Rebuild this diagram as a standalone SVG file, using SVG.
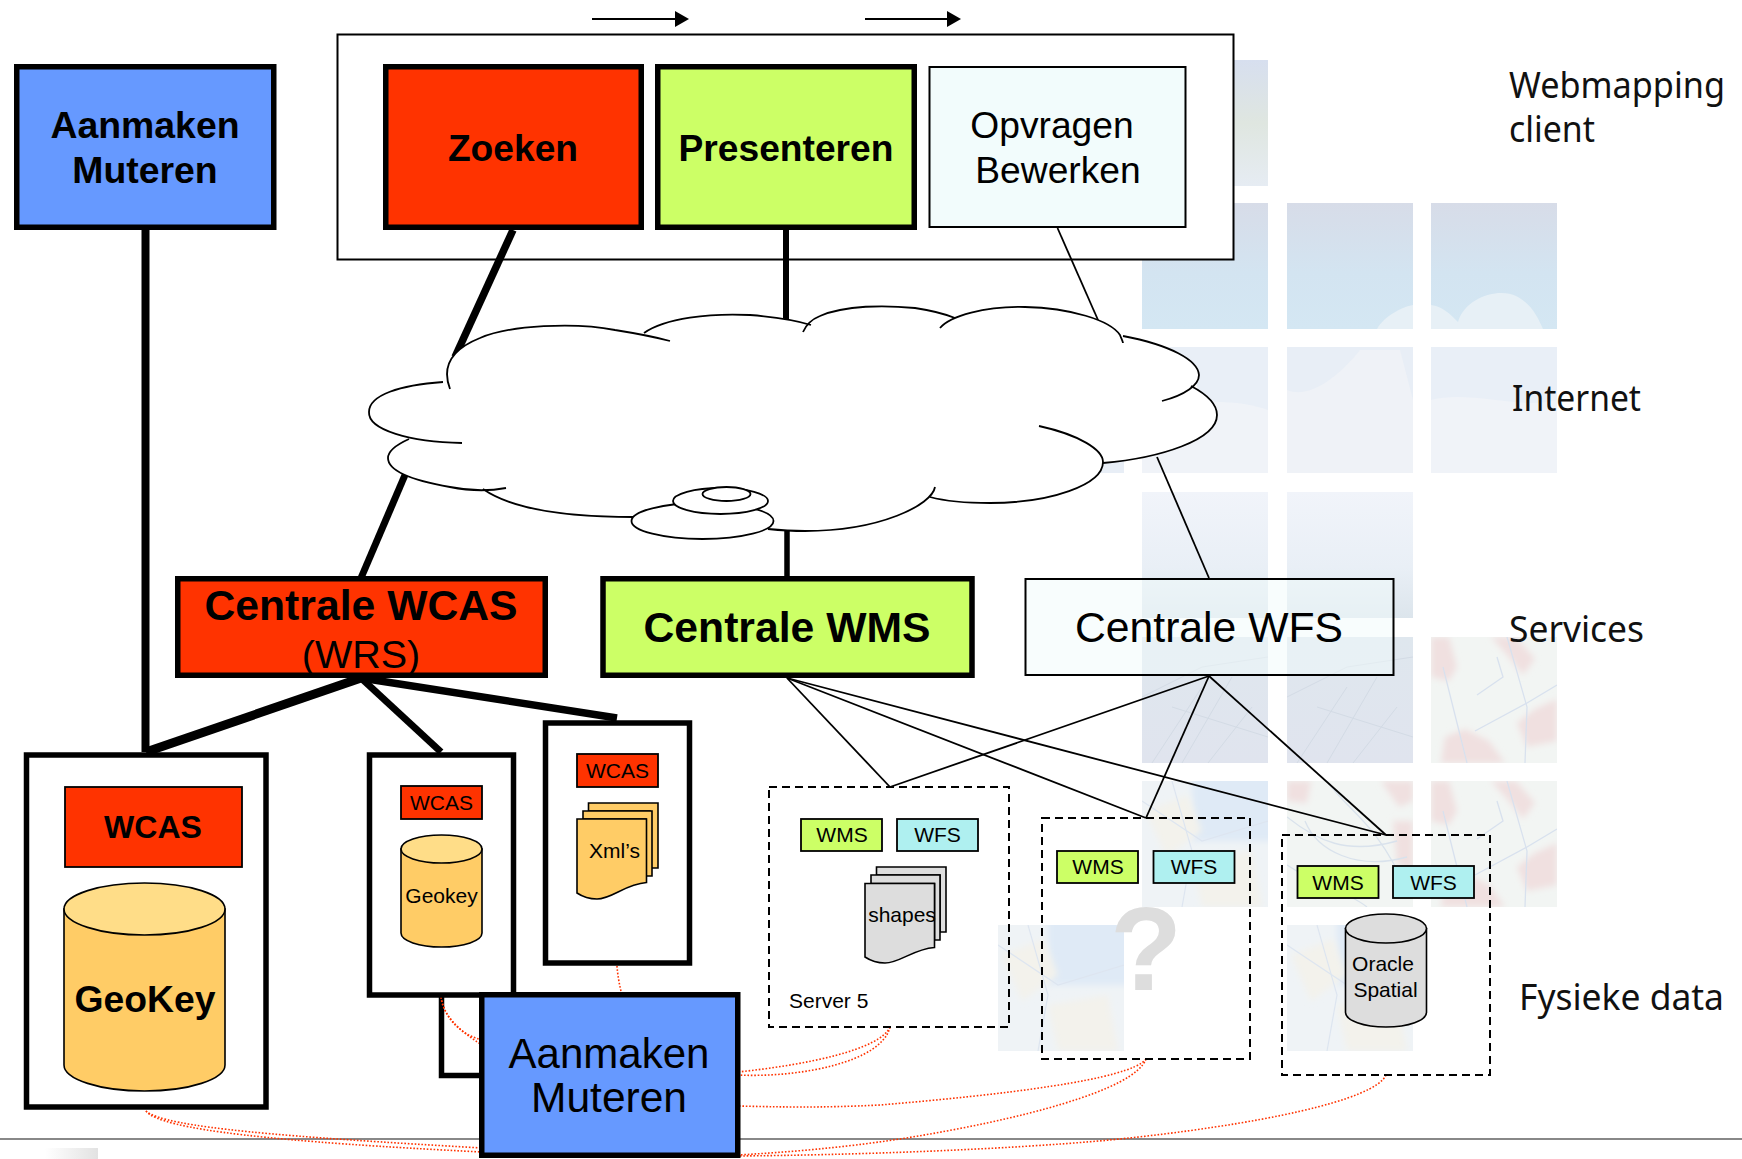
<svg xmlns="http://www.w3.org/2000/svg" xmlns:xlink="http://www.w3.org/1999/xlink" width="1742" height="1159" viewBox="0 0 1742 1159">
<style>
text{font-family:"Liberation Sans",Arial,sans-serif;fill:#000;text-anchor:middle}
.b{font-weight:bold}
.lab{font-family:"Noto Sans","Open Sans",sans-serif;font-size:36px;text-anchor:start;fill:#111}
.thick{fill:#69f;stroke:#000;stroke-width:5.5}
.red{fill:#f30}.grn{fill:#cf6}.cyan{fill:#aff0f0}
.s{stroke:#000;stroke-width:1.8}
.t21{font-size:21px}
.frame{fill:#fff;stroke:#000;stroke-width:5.5}
.dash{fill:none;stroke:#000;stroke-width:2;stroke-dasharray:8 5}
.thin{stroke:#000;stroke-width:1.8;fill:none}
.dot{stroke:#f30;stroke-width:1.6;stroke-dasharray:1.6 1.8;fill:none}
.org{fill:#fc6;stroke:#000;stroke-width:1.6}
.orgtop{fill:#fd8;stroke:#000;stroke-width:1.6}
.gry{fill:#ddd;stroke:#000;stroke-width:1.6}
</style>
<defs>
<linearGradient id="sky" x1="0" y1="0" x2="0" y2="1"><stop offset="0" stop-color="#d7dce8"/><stop offset=".55" stop-color="#d3e4f1"/><stop offset="1" stop-color="#d4e7f3"/></linearGradient>
<linearGradient id="top" x1="0" y1="0" x2="0" y2="1"><stop offset="0" stop-color="#d7dfef"/><stop offset=".5" stop-color="#dfe6e0"/><stop offset="1" stop-color="#e6ecf3"/></linearGradient>
<linearGradient id="haze" x1="0" y1="0" x2="0" y2="1"><stop offset="0" stop-color="#f1f4fa"/><stop offset=".6" stop-color="#e9eff6"/><stop offset="1" stop-color="#dce5ec"/></linearGradient>
<linearGradient id="city" x1="0" y1="0" x2="0" y2="1"><stop offset="0" stop-color="#dfe7ee"/><stop offset="1" stop-color="#e0e4ee"/></linearGradient>
<linearGradient id="corner" x1="0" y1="0" x2="1" y2="0"><stop offset="0" stop-color="#fff"/><stop offset="1" stop-color="#e2e2e2"/></linearGradient>
<filter id="soft" x="-20%" y="-20%" width="140%" height="140%"><feGaussianBlur stdDeviation="3"/></filter>
<symbol id="mapA" width="126" height="126" viewBox="0 0 126 126">
<rect width="126" height="126" fill="#f2f5f3"/>
<g fill="#f0e0e0" filter="url(#soft)"><path d="M0 0H18L26 30L18 44L0 40Z"/><path d="M60 0H85L104 22L92 38L76 18Z"/><path d="M10 126L14 100L34 92L58 104L74 126Z"/><path d="M126 62V104L96 110L86 86L104 72Z"/></g>
<g fill="none" stroke="#d8e1ee" stroke-width="1.300"><path d="M12 30L36 126"/><path d="M76 0L96 70L94 126"/><path d="M44 94L96 66L126 48"/><path d="M46 58L72 40L66 20"/></g>
</symbol>
<symbol id="mapB" width="126" height="126" viewBox="0 0 126 126">
<rect width="126" height="126" fill="#f2f5f3"/>
<g fill="#f0e0e0" filter="url(#soft)"><path d="M0 0H24L20 22L0 20Z"/><path d="M94 0H126V20L112 26Z"/><path d="M106 40L126 40V92L110 82Z"/></g>
<g fill="none" stroke="#d9e2ec" stroke-width="1.300"><path d="M0 36C30 60 60 74 110 60"/><path d="M18 40C30 70 70 90 120 76"/><path d="M40 0C60 30 90 40 120 110"/><path d="M0 84C30 104 60 110 80 126"/></g>
</symbol>
<symbol id="mapC" width="126" height="126" viewBox="0 0 126 126">
<rect width="126" height="126" fill="#eff3f6"/>
<rect x="50" y="-10" width="86" height="70" fill="#dfeaf6" filter="url(#soft)"/>
<g fill="#f3f2ec" filter="url(#soft)"><path d="M4 30L46 14L60 50L24 76Z"/><path d="M50 80L110 70L120 126H60Z"/></g>
<g fill="none" stroke="#dde5f0" stroke-width="1.200"><path d="M0 20L60 60L126 40"/><path d="M30 0L50 70L40 126"/></g>
</symbol>
<g id="cityLines" fill="none" stroke="#d3dbe5" stroke-width="1"><path d="M10 126L60 50"/><path d="M40 126L90 40"/><path d="M66 126L110 70"/><path d="M0 60L60 30L126 20"/><path d="M30 70L126 100"/></g>
<g id="cloudShape">
<path d="M450 389C442 368 450 350 480 338C510 325 575 322 615 330C640 334 655 337 670 341"/>
<path d="M644 333C665 318 710 313 750 315C775 317 795 320 811 325"/>
<path d="M803 332C806 325 810 320 820 316C845 305 885 305 915 308C935 311 945 314 955 318"/>
<path d="M940 328C950 316 985 306 1025 307C1070 308 1110 320 1120 335C1122 340 1123 342 1123 343"/>
<path d="M1123 336C1170 345 1198 360 1199 375C1199 385 1185 395 1162 401"/>
<path d="M1191 386C1208 395 1217 405 1217 415C1217 440 1160 458 1103 463"/>
<path d="M1039 426C1080 435 1103 450 1103 462C1103 485 1050 503 990 503C965 503 945 501 930 497"/>
<path d="M935 487C932 505 880 531 805 531C790 531 778 530 768 529"/>
<path d="M633 517C560 517 510 508 483 489"/>
<path d="M506 488C490 491 470 491 450 487C410 480 388 470 388 458C388 450 398 444 409 439"/>
<path d="M462 443C410 442 368 430 369 412C369 395 400 385 443 382"/>
</g>
</defs>

<g id="background">
<rect x="1142" y="60" width="126" height="126" fill="url(#top)"/>
<rect x="1142" y="203" width="126" height="126" fill="url(#sky)"/>
<rect x="1287" y="203" width="126" height="126" fill="url(#sky)"/>
<rect x="1431" y="203" width="126" height="126" fill="url(#sky)"/>
<path d="M1377 329C1384 316 1402 307 1413 305V329Z" fill="#e7f0f6"/>
<path d="M1431 305C1442 306 1450 314 1458 322C1466 296 1500 288 1516 296C1532 304 1538 318 1543 329H1431Z" fill="#e7f0f6"/>
<rect x="998" y="347" width="126" height="126" fill="#e8eef6"/>
<rect x="1142" y="347" width="126" height="126" fill="#e9eff7"/>
<rect x="1287" y="347" width="126" height="126" fill="#e8eef6"/>
<rect x="1431" y="347" width="126" height="126" fill="#e9eff7"/>
<path d="M1142 420C1180 395 1240 400 1268 410V473H1142Z" fill="#f0f3f8"/>
<path d="M1287 390C1310 400 1340 375 1360 350H1400L1413 400V473H1287Z" fill="#eff2f7"/>
<path d="M1431 400C1470 390 1520 410 1557 400V473H1431Z" fill="#f0f3f8"/>
<rect x="1142" y="492" width="126" height="126" fill="url(#haze)"/>
<rect x="1287" y="492" width="126" height="126" fill="url(#haze)"/>
<rect x="1142" y="637" width="126" height="126" fill="url(#city)"/>
<rect x="1287" y="637" width="126" height="126" fill="url(#city)"/>
<use xlink:href="#cityLines" transform="translate(1142 637)"/>
<use xlink:href="#cityLines" transform="translate(1287 637)"/>
<use xlink:href="#mapA" x="1431" y="637"/>
<use xlink:href="#mapC" x="1142" y="781"/>
<use xlink:href="#mapB" x="1287" y="781"/>
<use xlink:href="#mapA" x="1431" y="781"/>
<use xlink:href="#mapC" x="998" y="925"/>
<use xlink:href="#mapC" x="1287" y="925"/>
</g>

<line x1="0" y1="1139" x2="1742" y2="1139" stroke="#888" stroke-width="2"/>
<rect x="45" y="1148" width="53" height="11" fill="url(#corner)"/>

<g id="webmapping-client-frame"><rect x="337.500" y="34.500" width="896" height="225" fill="#fff" stroke="#000" stroke-width="2"/></g>

<g id="connectors">
<g fill="#000"><path d="M592 18H675V11L689 19L675 27V20H592Z"/><path d="M865 18H947V11L961 19L947 27V20H865Z"/></g>
<g stroke="#000" fill="none">
<path d="M145.500 225V752" stroke-width="8"/>
<path d="M513 230L455 357" stroke-width="7.500"/>
<path d="M786 230V322" stroke-width="6"/>
<path d="M405 475L361 578" stroke-width="7"/>
<path d="M787 525V579" stroke-width="5.500"/>
<path d="M361 678L146 752" stroke-width="9"/>
<path d="M361 678L441 752" stroke-width="7"/>
<path d="M361 678L617 718" stroke-width="7.500"/>
<path d="M441.500 995V1075.500H482" stroke-width="5.500"/>
</g>
<g class="thin">
<path d="M1057.500 228L1098 320"/>
<path d="M1157 457L1209 578"/>
<path d="M787 678L890 787"/><path d="M787 678L1146 818"/><path d="M787 678L1386 835"/>
<path d="M1209 676L890 787"/><path d="M1209 676L1146 818"/><path d="M1209 676L1386 835"/>
</g>
<g class="dot">
<path d="M441 997C443 1015 458 1030 482 1045"/><path d="M441 997C445 1020 462 1035 482 1040"/>
<path d="M617 966Q618 980 622 995"/>
<path d="M146 1111C160 1130 280 1142 482 1152"/><path d="M146 1111C165 1128 290 1137 482 1148"/>
<path d="M890 1027C880 1050 805 1065 738 1072"/><path d="M890 1027C882 1062 800 1078 738 1075"/>
<path d="M1146 1059C1130 1080 1000 1095 880 1105C820 1108 780 1107 738 1106"/>
<path d="M1146 1059C1135 1090 1020 1120 900 1139C840 1148 790 1152 738 1155"/>
<path d="M1386 1075C1375 1100 1260 1125 1110 1140C1000 1150 850 1155 738 1156"/>
</g>
</g>

<g id="cloud">
<path d="M450 385L640 335L940 325L1123 340L1190 365L1205 410L1103 463L930 497L768 529L633 517L483 489L409 439Z" fill="#fff"/>
<use xlink:href="#cloudShape" fill="#fff" stroke="none"/>
<use xlink:href="#cloudShape" fill="none" stroke="#000" stroke-width="1.800"/>
<g fill="#fff" stroke="#000" stroke-width="1.800">
<ellipse cx="702.500" cy="521" rx="71" ry="18"/>
<ellipse cx="720.500" cy="501" rx="47.500" ry="13"/>
<ellipse cx="726.500" cy="494" rx="24" ry="7"/>
</g>
</g>

<g id="aanmaken-top"><rect class="thick" x="16.750" y="66.750" width="257" height="160.500"/><text class="b" font-size="37.400" x="145" y="138">Aanmaken</text><text class="b" font-size="37.400" x="145" y="183">Muteren</text></g>
<g id="zoeken"><rect class="thick" style="fill:#f30" x="385.750" y="66.750" width="255.500" height="160.500"/><text class="b" font-size="37.200" x="513" y="161">Zoeken</text></g>
<g id="presenteren"><rect class="thick" style="fill:#cf6" x="657.750" y="66.750" width="256.500" height="160.500"/><text class="b" font-size="37.200" x="786" y="161">Presenteren</text></g>
<g id="opvragen"><rect x="929.500" y="67" width="256" height="160" fill="#f2fcfc" stroke="#000" stroke-width="2"/><text font-size="37.200" x="1052" y="138">Opvragen</text><text font-size="37.200" x="1058" y="183">Bewerken</text></g>

<g id="centrale-wcas"><rect class="thick" style="fill:#f30" x="177.750" y="578.750" width="367.500" height="96.500"/><text class="b" font-size="42.700" x="361" y="620">Centrale WCAS</text><text font-size="39.500" x="361" y="667.500">(WRS)</text></g>
<g id="centrale-wms"><rect class="thick" style="fill:#cf6" x="603" y="578.750" width="369" height="96.500"/><text class="b" font-size="42.700" x="787" y="642">Centrale WMS</text></g>
<g id="centrale-wfs"><rect x="1025.500" y="579" width="368" height="96" fill="#f2fcfc" fill-opacity=".5" stroke="#000" stroke-width="2"/><text font-size="42.700" x="1209" y="642">Centrale WFS</text></g>

<g id="geokey-large">
<rect class="frame" x="26.500" y="755" width="239.500" height="352"/>
<rect class="red s" x="65" y="787" width="177" height="80"/>
<text class="b" font-size="32" x="153" y="838">WCAS</text>
<path class="org" d="M64 909V1065A80.500 26 0 0 0 225 1065V909Z"/>
<ellipse class="orgtop" cx="144.500" cy="909" rx="80.500" ry="26"/>
<text class="b" font-size="37.300" x="145" y="1012">GeoKey</text>
</g>
<g id="geokey-small">
<rect class="frame" x="369.500" y="755" width="144" height="240"/>
<rect class="red s" x="401" y="786" width="81" height="33"/>
<text class="t21" x="441.500" y="810">WCAS</text>
<path class="org" d="M401 849V933A40.500 14 0 0 0 482 933V849Z"/>
<ellipse class="orgtop" cx="441.500" cy="849" rx="40.500" ry="14"/>
<text class="t21" x="441.500" y="903">Geokey</text>
</g>
<g id="xmls">
<rect class="frame" x="545.500" y="723" width="144" height="240"/>
<rect class="red s" x="577" y="754" width="81" height="33"/>
<text class="t21" x="617.500" y="778">WCAS</text>
<path class="org" d="M588.500 803H658V868H650V811H588.500Z"/>
<path class="org" d="M583 811H652V876H646V819H583Z"/>
<path class="org" d="M577 819H646.500V882.500C625 884 612 899 597 899C590 899 583 897 577 893Z"/>
<text class="t21" x="614.500" y="858">Xml’s</text>
</g>

<g id="server5">
<rect class="dash" x="769" y="787" width="240" height="240"/>
<rect class="grn s" x="801" y="819" width="81" height="32"/><text class="t21" x="842" y="842">WMS</text>
<rect class="cyan s" x="897" y="819" width="81" height="32"/><text class="t21" x="937.500" y="842">WFS</text>
<path class="gry" d="M876.500 867H946V932H940V875H876.500Z"/>
<path class="gry" d="M871 875H940V940H934.500V883.500H871Z"/>
<path class="gry" d="M865 883.500H934.500V947.500C913 949 900 963 885 963C878 963 871 961 865 957Z"/>
<text class="t21" x="902" y="922">shapes</text>
<text class="t21" x="789" y="1008" style="text-anchor:start">Server 5</text>
</g>
<g id="server-unknown">
<rect class="dash" x="1042" y="818" width="208" height="241"/>
<rect class="grn s" x="1057" y="851" width="81" height="32"/><text class="t21" x="1098" y="874">WMS</text>
<rect class="cyan s" x="1153.500" y="851" width="81" height="32"/><text class="t21" x="1194" y="874">WFS</text>
<text class="b" font-size="118" x="1146" y="990" style="fill:#ddd">?</text>
</g>
<g id="server-oracle">
<rect class="dash" x="1282" y="835" width="208" height="240"/>
<rect class="grn s" x="1297.500" y="866" width="81" height="32"/><text class="t21" x="1338" y="890">WMS</text>
<rect class="cyan s" x="1393" y="866" width="81" height="32"/><text class="t21" x="1433.500" y="890">WFS</text>
<path class="gry" d="M1345.500 928.500V1012.500A40.500 14.500 0 0 0 1426.500 1012.500V928.500Z"/>
<ellipse class="gry" cx="1386" cy="928.500" rx="40.500" ry="14.500"/>
<text class="t21" x="1383" y="971">Oracle</text><text class="t21" x="1385.500" y="997">Spatial</text>
</g>

<g id="aanmaken-bottom"><rect class="thick" x="481.750" y="994.750" width="256" height="160.500"/><text font-size="42" x="609" y="1068">Aanmaken</text><text font-size="42.500" x="609" y="1112">Muteren</text></g>

<g id="layer-labels">
<text class="lab" x="1509" y="98" textLength="216" lengthAdjust="spacingAndGlyphs">Webmapping</text>
<text class="lab" x="1509" y="142" textLength="86" lengthAdjust="spacingAndGlyphs">client</text>
<text class="lab" x="1512" y="411" textLength="129" lengthAdjust="spacingAndGlyphs">Internet</text>
<text class="lab" x="1509" y="642" textLength="135" lengthAdjust="spacingAndGlyphs">Services</text>
<text class="lab" x="1519" y="1010" textLength="205" lengthAdjust="spacingAndGlyphs">Fysieke data</text>
</g>
</svg>
